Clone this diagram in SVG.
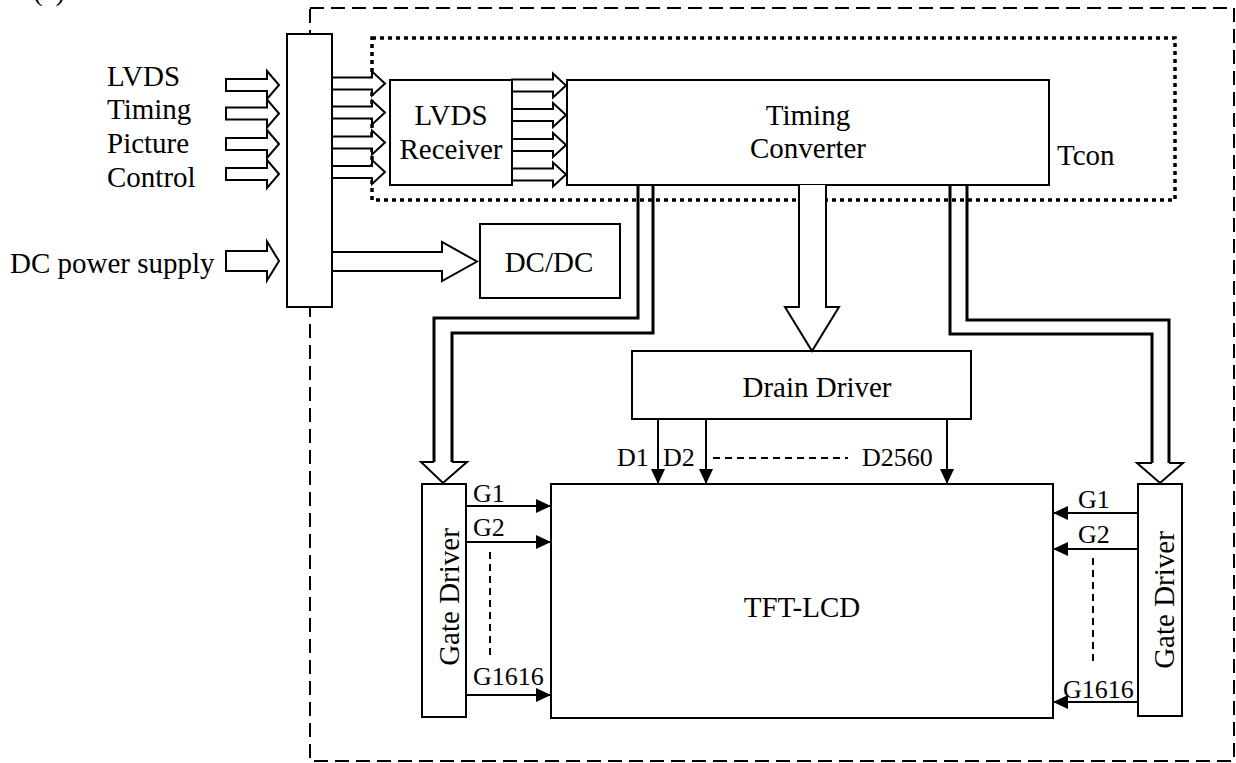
<svg xmlns="http://www.w3.org/2000/svg" width="1236" height="763" viewBox="0 0 1236 763">
<style>
text{font-family:"Liberation Serif","Times New Roman","DejaVu Serif",serif;fill:#000}
.t{font-size:29px}
.s{font-size:26px}
.box{fill:#fff;stroke:#000;stroke-width:2}
.ln{fill:none;stroke:#000;stroke-width:2}
.th{fill:none;stroke:#000;stroke-width:3}
.ha{fill:#fff;stroke:#000;stroke-width:2;stroke-linejoin:miter}
.dsh{fill:none;stroke:#000;stroke-width:2;stroke-dasharray:7 5}
</style>
<defs>
<marker id="ah" viewBox="0 0 15 14" refX="15" refY="7" markerWidth="15" markerHeight="14" markerUnits="userSpaceOnUse" orient="auto"><path d="M0,0 L15,7 L0,14 Z" fill="#000"/></marker>
</defs>
<text class="t" x="33" y="0">(a)</text>
<text class="t" x="163" y="0">LCD</text>
<g id="module">
<rect x="310" y="8" width="924" height="753" fill="none" stroke="#000" stroke-width="2" stroke-dasharray="14 7"/>
</g>
<g id="tcon">
<rect x="372" y="38" width="803" height="162" fill="none" stroke="#000" stroke-width="3.5" stroke-dasharray="4 4"/>
<text class="t" x="1057" y="165">Tcon</text>
</g>
<g id="inputs">
<text class="t" x="107" y="86">LVDS</text>
<text class="t" x="107" y="119">Timing</text>
<text class="t" x="107" y="153">Picture</text>
<text class="t" x="107" y="187">Control</text>
<text class="t" x="10" y="273">DC power supply</text>
</g>
<g id="connector-block"><rect class="box" x="287" y="34" width="45" height="273"/></g>
<g id="lvds-receiver"><rect class="box" x="390" y="80" width="122" height="105"/>
<text class="t" x="451" y="125" text-anchor="middle">LVDS</text>
<text class="t" x="451" y="159" text-anchor="middle">Receiver</text></g>
<g id="timing-converter"><rect class="box" x="567" y="80" width="482" height="105"/>
<text class="t" x="808" y="125" text-anchor="middle">Timing</text>
<text class="t" x="808" y="158" text-anchor="middle">Converter</text></g>
<g id="dcdc"><rect class="box" x="480" y="224" width="140" height="74"/>
<text class="t" x="549" y="272" text-anchor="middle">DC/DC</text></g>
<g id="drain-driver"><rect class="box" x="632" y="351" width="339" height="68"/>
<text class="t" x="817" y="397" text-anchor="middle">Drain Driver</text></g>
<g id="tft-lcd"><rect class="box" x="551" y="484" width="502" height="234"/>
<text class="t" x="802" y="617" text-anchor="middle">TFT-LCD</text></g>
<g id="gate-driver-left"><rect class="box" x="422" y="484" width="44" height="233"/>
<text class="t" transform="translate(459,597) rotate(-90)" text-anchor="middle">Gate Driver</text></g>
<g id="gate-driver-right"><rect class="box" x="1138" y="484" width="44" height="232"/>
<text class="t" transform="translate(1174,600) rotate(-90)" text-anchor="middle">Gate Driver</text></g>
<g id="connectors">
<path class="ha" d="M226,79 H267 V71 L279,85 L267,99 V91 H226 Z"/>
<path class="ha" d="M226,107.5 H267 V99.5 L279,113.5 L267,127.5 V119.5 H226 Z"/>
<path class="ha" d="M226,138 H267 V130 L279,144 L267,158 V150 H226 Z"/>
<path class="ha" d="M226,168 H267 V160 L279,174 L267,188 V180 H226 Z"/>
<path class="ha" d="M226,251 H267 V241.5 L279,261 L267,280.5 V271 H226 Z"/>
<path class="ha" d="M332,252 H442 V242 L477,261.5 L442,281 V271 H332 Z"/>
<path class="ha" d="M332,77.5 H372 V71.5 L385,83.5 L372,95.5 V89.5 H332 Z"/>
<path class="ha" d="M332,106.5 H372 V100.5 L385,112.5 L372,124.5 V118.5 H332 Z"/>
<path class="ha" d="M332,136.5 H372 V130.5 L385,142.5 L372,154.5 V148.5 H332 Z"/>
<path class="ha" d="M332,166 H372 V160 L385,172 L372,184 V178 H332 Z"/>
<path class="ha" d="M512,79.5 H553 V73.5 L566,85.5 L553,97.5 V91.5 H512 Z"/>
<path class="ha" d="M512,109 H553 V103 L566,115 L553,127 V121 H512 Z"/>
<path class="ha" d="M512,139 H553 V133 L566,145 L553,157 V151 H512 Z"/>
<path class="ha" d="M512,168.5 H553 V162.5 L566,174.5 L553,186.5 V180.5 H512 Z"/>
<path class="ha" d="M799,185 V307 H785 L812,351 L839,307 H826 V185"/>
<polyline class="th" points="638,185 638,318 434,318 434,462"/>
<polyline class="th" points="653,185 653,333 452,333 452,462"/>
<path class="ln" d="M434,462 H421 L443,483 L467,462 H452"/>
<polyline class="th" points="950,185 950,334 1152,334 1152,463"/>
<polyline class="th" points="967,185 967,320 1169,320 1169,463"/>
<path class="ln" d="M1152,463 H1137 L1160,483 L1183,463 H1169"/>
<line class="ln" x1="658" y1="419" x2="658" y2="484" marker-end="url(#ah)"/>
<line class="ln" x1="706" y1="419" x2="706" y2="484" marker-end="url(#ah)"/>
<line class="ln" x1="947" y1="419" x2="947" y2="484" marker-end="url(#ah)"/>
<line class="dsh" x1="713" y1="458" x2="848" y2="458"/>
<text class="s" x="617" y="466">D1</text>
<text class="s" x="663" y="466">D2</text>
<text class="s" x="862" y="466">D2560</text>
<line class="ln" x1="466" y1="506" x2="551" y2="506" marker-end="url(#ah)"/>
<line class="ln" x1="466" y1="542" x2="551" y2="542" marker-end="url(#ah)"/>
<line class="ln" x1="466" y1="695" x2="551" y2="695" marker-end="url(#ah)"/>
<line class="dsh" x1="490" y1="552" x2="490" y2="657"/>
<text class="s" x="473" y="502">G1</text>
<text class="s" x="473" y="536">G2</text>
<text class="s" x="473" y="685">G1616</text>
<line class="ln" x1="1138" y1="513" x2="1053" y2="513" marker-end="url(#ah)"/>
<line class="ln" x1="1138" y1="549" x2="1053" y2="549" marker-end="url(#ah)"/>
<line class="ln" x1="1138" y1="702" x2="1053" y2="702" marker-end="url(#ah)"/>
<line class="dsh" x1="1093" y1="558" x2="1093" y2="665"/>
<text class="s" x="1078" y="508">G1</text>
<text class="s" x="1078" y="543">G2</text>
<text class="s" x="1063" y="698">G1616</text>
</g>
</svg>
